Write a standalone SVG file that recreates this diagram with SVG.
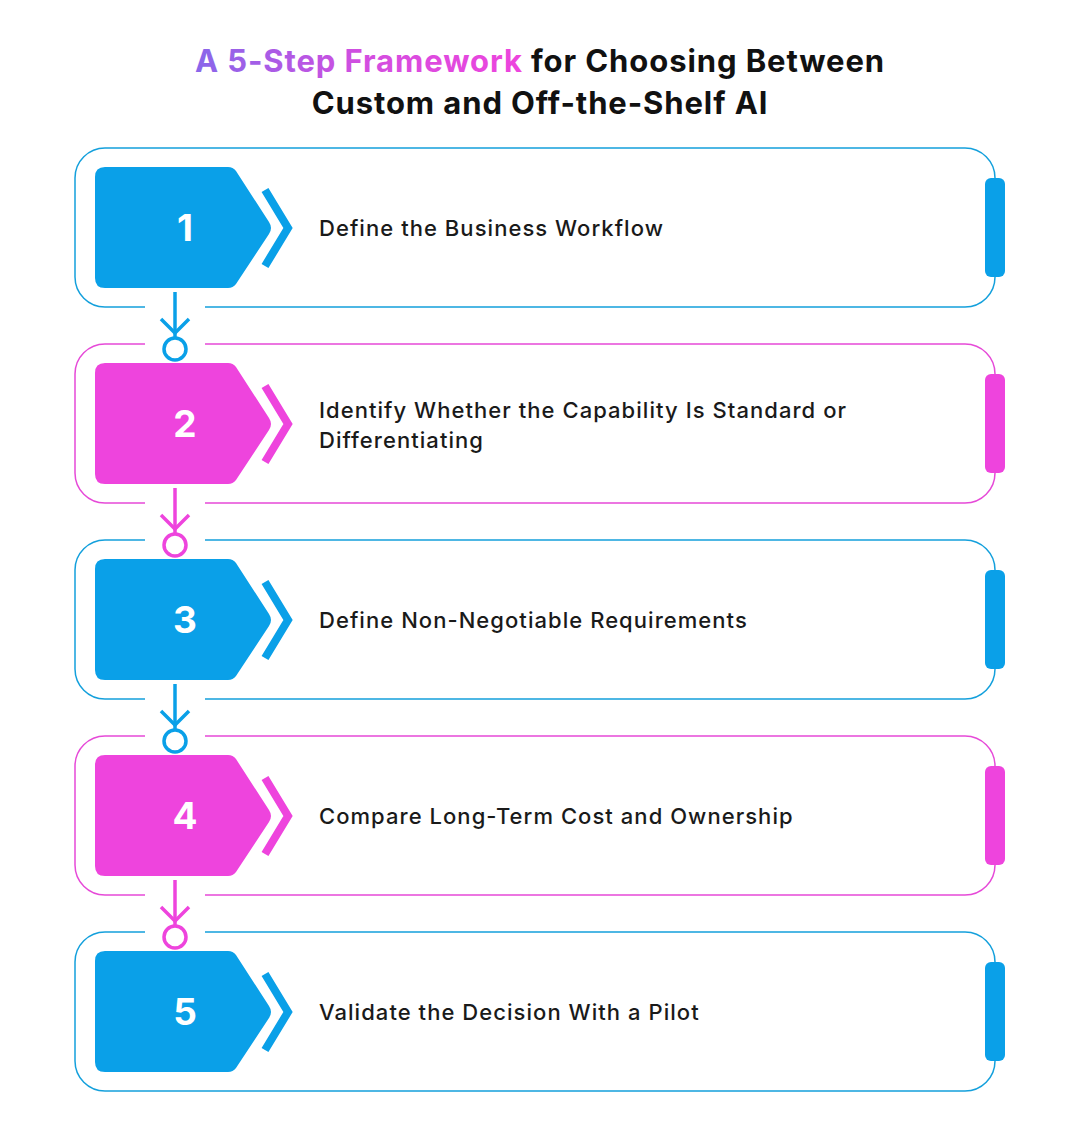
<svg xmlns="http://www.w3.org/2000/svg" width="1080" height="1132" viewBox="0 0 1080 1132">
<defs>
<linearGradient id="tg" gradientUnits="userSpaceOnUse" x1="199" y1="0" x2="525" y2="0">
<stop offset="0" stop-color="#8a66ea"/>
<stop offset="0.5" stop-color="#d24ee0"/>
<stop offset="1" stop-color="#ee44dd"/>
</linearGradient>
<style>
.title{font-family:Inter,"Liberation Sans",sans-serif;font-weight:700;font-size:31px;letter-spacing:0.9px;fill:#111111;text-anchor:middle}
.lbl{font-family:Inter,"Liberation Sans",sans-serif;font-weight:500;font-size:22px;letter-spacing:1.05px;fill:#1a1a1a}
.num{font-family:Inter,"Liberation Sans",sans-serif;font-weight:700;font-size:37px;fill:#ffffff;text-anchor:middle}
.cardB{fill:none;stroke:#14a0dc;stroke-width:1.5}
.cardM{fill:none;stroke:#e64ad8;stroke-width:1.5}
.fB{fill:#0aa0e8}
.fM{fill:#ee44dd}
.chB{fill:none;stroke:#0aa0e8;stroke-width:8;stroke-linecap:butt;stroke-linejoin:miter}
.chM{fill:none;stroke:#ee44dd;stroke-width:8;stroke-linecap:butt;stroke-linejoin:miter}
.conB{fill:none;stroke:#0aa0e8;stroke-width:3.5}
.conM{fill:none;stroke:#ee44dd;stroke-width:3.5}
</style>
</defs>
<rect width="1080" height="1132" fill="#ffffff"/>
<g id="title">
<text class="title" x="540" y="72"><tspan fill="url(#tg)">A 5-Step Framework</tspan> for Choosing Between</text>
<text class="title" x="540" y="114">Custom and Off-the-Shelf AI</text>
</g>

<g id="step1">
<path class="cardB" d="M205,307 H965 A30,30 0 0 0 995,277 V178 A30,30 0 0 0 965,148 H105 A30,30 0 0 0 75,178 V277 A30,30 0 0 0 105,307 H145"/>
<path class="fB" d="M105,167 H228 Q233,167 236,171 L269,222 Q273,228 269,234 L236,284 Q233,288 228,288 H105 Q95,288 95,278 V177 Q95,167 105,167 Z"/>
<polyline class="chB" points="265,190 288,228 265,266"/>
<rect class="fB" x="985" y="178" width="20" height="99" rx="6"/>
<text class="num" x="185" y="241">1</text>
<text class="lbl" x="319" y="236">Define the Business Workflow</text>
</g>

<g id="step2">
<path class="cardM" d="M205,503 H965 A30,30 0 0 0 995,473 V374 A30,30 0 0 0 965,344 H205 M145,344 H105 A30,30 0 0 0 75,374 V473 A30,30 0 0 0 105,503 H145"/>
<path class="fM" d="M105,363 H228 Q233,363 236,367 L269,418 Q273,424 269,430 L236,480 Q233,484 228,484 H105 Q95,484 95,474 V373 Q95,363 105,363 Z"/>
<polyline class="chM" points="265,386 288,424 265,462"/>
<rect class="fM" x="985" y="374" width="20" height="99" rx="6"/>
<text class="num" x="185" y="437">2</text>
<text class="lbl" x="319" y="418">Identify Whether the Capability Is Standard or</text>
<text class="lbl" x="319" y="448">Differentiating</text>
</g>

<g id="step3">
<path class="cardB" d="M205,699 H965 A30,30 0 0 0 995,669 V570 A30,30 0 0 0 965,540 H205 M145,540 H105 A30,30 0 0 0 75,570 V669 A30,30 0 0 0 105,699 H145"/>
<path class="fB" d="M105,559 H228 Q233,559 236,563 L269,614 Q273,620 269,626 L236,676 Q233,680 228,680 H105 Q95,680 95,670 V569 Q95,559 105,559 Z"/>
<polyline class="chB" points="265,582 288,620 265,658"/>
<rect class="fB" x="985" y="570" width="20" height="99" rx="6"/>
<text class="num" x="185" y="633">3</text>
<text class="lbl" x="319" y="628">Define Non-Negotiable Requirements</text>
</g>

<g id="step4">
<path class="cardM" d="M205,895 H965 A30,30 0 0 0 995,865 V766 A30,30 0 0 0 965,736 H205 M145,736 H105 A30,30 0 0 0 75,766 V865 A30,30 0 0 0 105,895 H145"/>
<path class="fM" d="M105,755 H228 Q233,755 236,759 L269,810 Q273,816 269,822 L236,872 Q233,876 228,876 H105 Q95,876 95,866 V765 Q95,755 105,755 Z"/>
<polyline class="chM" points="265,778 288,816 265,854"/>
<rect class="fM" x="985" y="766" width="20" height="99" rx="6"/>
<text class="num" x="185" y="829">4</text>
<text class="lbl" x="319" y="824">Compare Long-Term Cost and Ownership</text>
</g>

<g id="step5">
<path class="cardB" d="M205,932 H965 A30,30 0 0 1 995,962 V1061 A30,30 0 0 1 965,1091 H105 A30,30 0 0 1 75,1061 V962 A30,30 0 0 1 105,932 H145"/>
<path class="fB" d="M105,951 H228 Q233,951 236,955 L269,1006 Q273,1012 269,1018 L236,1068 Q233,1072 228,1072 H105 Q95,1072 95,1062 V961 Q95,951 105,951 Z"/>
<polyline class="chB" points="265,974 288,1012 265,1050"/>
<rect class="fB" x="985" y="962" width="20" height="99" rx="6"/>
<text class="num" x="185" y="1025">5</text>
<text class="lbl" x="319" y="1020">Validate the Decision With a Pilot</text>
</g>

<g id="connectors">
<g class="conB">
<line x1="175" y1="292" x2="175" y2="337"/>
<polyline points="161,319 175,333 189,319"/>
<circle cx="175" cy="349" r="11"/>
</g>
<g class="conM">
<line x1="175" y1="488" x2="175" y2="533"/>
<polyline points="161,515 175,529 189,515"/>
<circle cx="175" cy="545" r="11"/>
</g>
<g class="conB">
<line x1="175" y1="684" x2="175" y2="729"/>
<polyline points="161,711 175,725 189,711"/>
<circle cx="175" cy="741" r="11"/>
</g>
<g class="conM">
<line x1="175" y1="880" x2="175" y2="925"/>
<polyline points="161,907 175,921 189,907"/>
<circle cx="175" cy="937" r="11"/>
</g>
</g>
</svg>
